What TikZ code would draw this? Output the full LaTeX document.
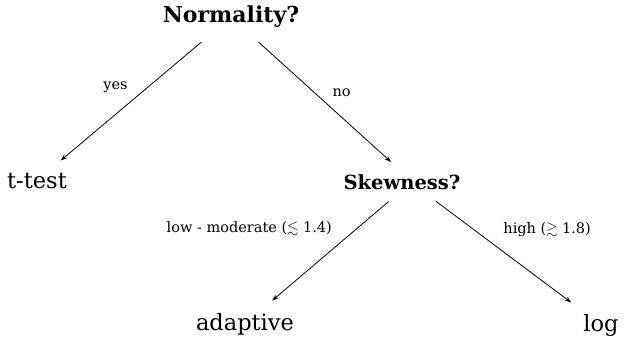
\documentclass[tikz,border=0pt]{standalone}
\usepackage{amsmath}
\usepackage{amssymb}
\usepackage{fontspec}
\setmainfont{DejaVu Serif}
\usepackage{tikz}
\usetikzlibrary{arrows.meta,positioning}

\begin{document}
\begin{tikzpicture}[
    x=1pt, y=-1pt,
    q/.style={font=\fontsize{22}{26}\selectfont\bfseries, anchor=base, inner xsep=4pt, inner ysep=14pt},
    leaf/.style={font=\fontsize{22.5}{26}\selectfont, anchor=base, inner xsep=4pt, inner ysep=12pt},
    lbl/.style={font=\fontsize{14.5}{16}\selectfont, inner sep=3pt},
    arr/.style={-{Stealth[length=6.5pt,width=4.5pt]}, thick}
]
    \useasboundingbox (0,0) rectangle (624,337);

    \node [q] (norm) at (231,23) {Normality?};
    \node [leaf] (ttest) at (37,188) {t-test};
    \node [q, font=\fontsize{19.5}{24}\selectfont\bfseries, inner ysep=12pt] (skew) at (402,189) {Skewness?};
    \node [leaf] (adapt) at (245,330) {adaptive};
    \node [leaf, inner xsep=12pt] (logt) at (601,331) {log};

    \draw [arr] (norm) -- node [lbl, pos=0.38, left=17pt] {yes} (ttest);
    \draw [arr] (norm) -- node [lbl, pos=0.42, right=15pt] {no} (skew.119);
    \draw [arr] (skew.236) -- node [lbl, pos=0.27, left=22pt] {low - moderate (\(\lesssim\) 1.4)} (adapt);
    \draw [arr] (skew.330) -- node [lbl, pos=0.28, right=26pt] {high (\(\gtrsim\) 1.8)} (logt.143);
\end{tikzpicture}
\end{document}
